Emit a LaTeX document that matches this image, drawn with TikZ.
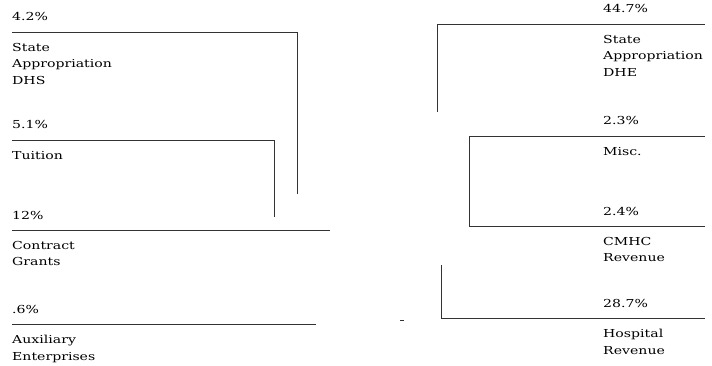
\documentclass[tikz,border=0pt]{standalone}
\usepackage{fontspec}
\setmainfont{DejaVu Serif}[FakeStretch=1.28]
\usepackage{tikz}
\usetikzlibrary{positioning,calc}

\begin{document}
\begin{tikzpicture}[x=1pt, y=-1pt,
    rule/.style={line width=0.55pt, black!80},
    pct/.style={anchor=base west, inner sep=0pt, font=\fontsize{11}{16}\selectfont},
    src/.style={anchor=north west, inner sep=0pt, align=left, font=\fontsize{11}{16.5}\selectfont}]
    \useasboundingbox (0,0) rectangle (712,366);

    % Left column: State Appropriation DHS
    \coordinate (dhsL) at (12,32);
    \coordinate (dhsR) at (297,32);
    \coordinate (dhsE) at (297,194);
    \draw[rule] (dhsL) -- (dhsR) -- (dhsE);
    \node[pct] (pDHS) at ($(dhsL)+(0,-11)$) {4.2\%};
    \node[src] (sDHS) at ($(dhsL)+(0,11)$) {State\\Appropriation\\DHS};

    % Tuition
    \coordinate (tuiL) at (12,140);
    \coordinate (tuiR) at (274,140);
    \coordinate (tuiE) at (274,217);
    \draw[rule] (tuiL) -- (tuiR) -- (tuiE);
    \node[pct] (pTui) at ($(tuiL)+(0,-11)$) {5.1\%};
    \node[src] (sTui) at ($(tuiL)+(0,11)$) {Tuition};

    % Contract Grants
    \coordinate (conL) at (12,230);
    \coordinate (conR) at (330,230);
    \draw[rule] (conL) -- (conR);
    \node[pct] (pCon) at ($(conL)+(0,-11)$) {12\%};
    \node[src] (sCon) at ($(conL)+(0,11)$) {Contract\\Grants};

    % Auxiliary Enterprises
    \coordinate (auxL) at (12,324);
    \coordinate (auxR) at (316,324);
    \draw[rule] (auxL) -- (auxR);
    \node[pct] (pAux) at ($(auxL)+(0,-11)$) {.6\%};
    \node[src] (sAux) at ($(auxL)+(0,11)$) {Auxiliary\\Enterprises};

    % Right column: State Appropriation DHE
    \coordinate (dheE) at (437,112);
    \coordinate (dheL) at (437,24);
    \coordinate (dheR) at (705,24);
    \coordinate (dheT) at (603,24);
    \draw[rule] (dheE) -- (dheL) -- (dheR);
    \node[pct] (pDHE) at ($(dheT)+(0,-11)$) {44.7\%};
    \node[src] (sDHE) at ($(dheT)+(0,11)$) {State\\Appropriation\\DHE};

    % Misc. and CMHC Revenue
    \coordinate (miscL) at (469,136);
    \coordinate (miscR) at (705,136);
    \coordinate (miscT) at (603,136);
    \coordinate (cmhL) at (469,226);
    \coordinate (cmhR) at (705,226);
    \coordinate (cmhT) at (603,226);
    \draw[rule] (miscR) -- (miscL) -- (cmhL) -- (cmhR);
    \node[pct] (pMisc) at ($(miscT)+(0,-11)$) {2.3\%};
    \node[src] (sMisc) at ($(miscT)+(0,11)$) {Misc.};
    \node[pct] (pCmh) at ($(cmhT)+(0,-11)$) {2.4\%};
    \node[src] (sCmh) at ($(cmhT)+(0,11)$) {CMHC\\Revenue};

    % Hospital Revenue
    \coordinate (hosE) at (441,265);
    \coordinate (hosL) at (441,318);
    \coordinate (hosR) at (705,318);
    \coordinate (hosT) at (603,318);
    \draw[rule] (hosE) -- (hosL) -- (hosR);
    \node[pct] (pHos) at ($(hosT)+(0,-11)$) {28.7\%};
    \node[src] (sHos) at ($(hosT)+(0,11)$) {Hospital\\Revenue};

    % stray tick
    \coordinate (tickA) at (400,320);
    \coordinate (tickB) at (404,320);
    \draw[rule] (tickA) -- (tickB);
\end{tikzpicture}
\end{document}
